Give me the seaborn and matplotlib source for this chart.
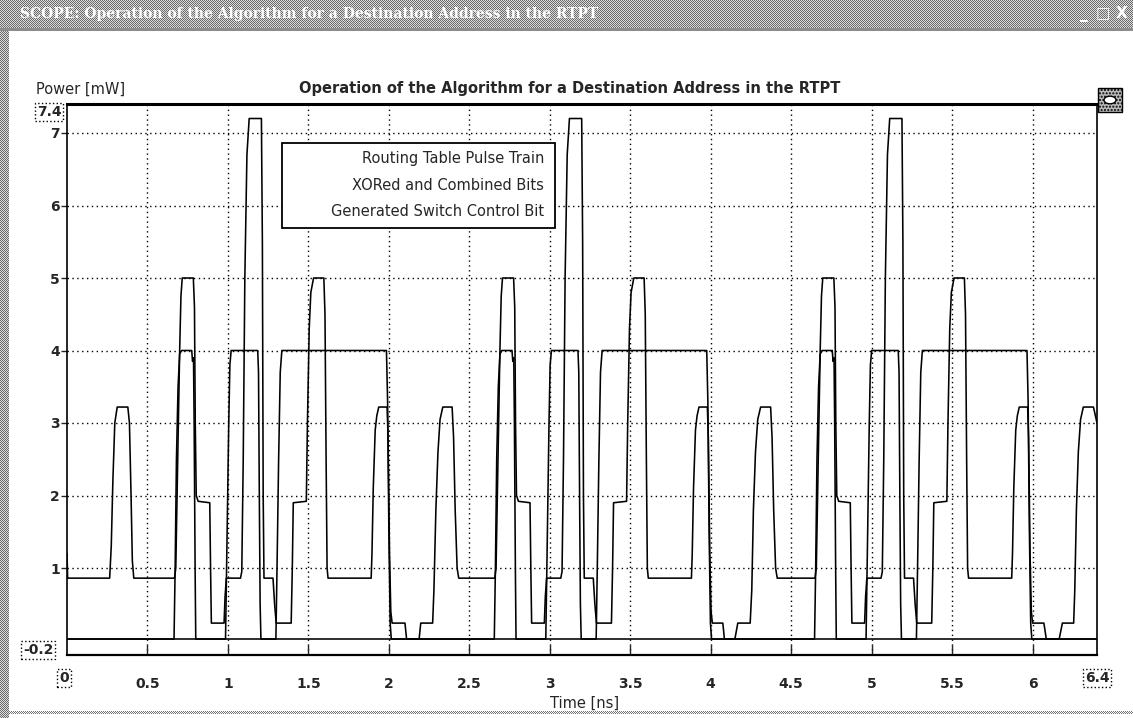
import numpy as np
import pandas as pd
import matplotlib
matplotlib.use("Agg")
import matplotlib.pyplot as plt
import seaborn as sns
from matplotlib.patches import Rectangle, Circle

sns.set_style("white")
plt.rcParams['font.family'] = ['DejaVu Sans']

# ---- data (time in ns, power in mW) ----
# Routing Table Pulse Train
pulse_t = [0.000, 0.004, 0.265, 0.275, 0.285, 0.297, 0.312, 0.378, 0.388, 0.398, 0.406, 0.415,
           0.668, 0.676, 0.688, 0.700, 0.708, 0.716, 0.785, 0.792, 0.797, 0.803, 0.815, 0.887, 0.892, 0.897,
           0.976, 0.982, 0.990, 1.078, 1.086, 1.095, 1.105, 1.118, 1.132, 1.208, 1.214, 1.219, 1.224,
           1.280, 1.290, 1.300, 1.393, 1.400, 1.406, 1.487, 1.494, 1.505, 1.515, 1.532, 1.596, 1.603,
           1.610, 1.616, 1.622, 1.890, 1.895, 1.903, 1.915, 1.925, 1.937, 1.989, 1.995, 2.004, 2.012, 2.020,
           2.100, 2.110, 2.188, 2.198, 2.272, 2.280, 2.292, 2.305, 2.318, 2.335, 2.393, 2.402, 2.412, 2.424, 2.434,
           2.658, 2.666, 2.678, 2.690, 2.698, 2.706, 2.775, 2.782, 2.787, 2.793, 2.805, 2.877, 2.882, 2.887,
           2.966, 2.972, 2.980, 3.068, 3.076, 3.085, 3.095, 3.108, 3.122, 3.198, 3.204, 3.209, 3.214,
           3.270, 3.280, 3.290, 3.383, 3.390, 3.396, 3.477, 3.484, 3.495, 3.505, 3.522, 3.586, 3.593,
           3.600, 3.606, 3.612, 3.880, 3.885, 3.893, 3.905, 3.915, 3.927, 3.979, 3.985, 3.994, 4.002, 4.010,
           4.075, 4.085, 4.150, 4.168, 4.245, 4.255, 4.265, 4.278, 4.292, 4.310, 4.372, 4.381, 4.391, 4.403, 4.413,
           4.648, 4.656, 4.668, 4.680, 4.688, 4.696, 4.765, 4.772, 4.777, 4.783, 4.795, 4.867, 4.872, 4.877,
           4.956, 4.962, 4.970, 5.058, 5.066, 5.075, 5.085, 5.098, 5.112, 5.188, 5.194, 5.199, 5.204,
           5.260, 5.270, 5.280, 5.373, 5.380, 5.386, 5.467, 5.474, 5.485, 5.495, 5.512, 5.576, 5.583,
           5.590, 5.596, 5.602, 5.870, 5.875, 5.883, 5.895, 5.905, 5.917, 5.969, 5.975, 5.984, 5.992, 6.000,
           6.070, 6.085, 6.165, 6.185, 6.255, 6.262, 6.272, 6.284, 6.298, 6.315, 6.378, 6.400]
pulse_mw = [1.20, 0.86, 0.86, 1.30, 2.20, 3.00, 3.22, 3.22, 3.00, 2.00, 1.10, 0.86,
            0.86, 1.00, 2.50, 4.00, 4.75, 5.00, 5.00, 4.60, 3.00, 2.00, 1.92, 1.90, 1.00, 0.24,
            0.24, 0.60, 0.86, 0.86, 0.95, 2.50, 5.00, 6.70, 7.20, 7.20, 5.50, 2.00, 0.86,
            0.86, 0.50, 0.24, 0.24, 1.00, 1.90, 1.92, 3.00, 4.30, 4.80, 5.00, 5.00, 4.50,
            2.50, 1.00, 0.86, 0.86, 1.20, 2.10, 2.90, 3.10, 3.22, 3.22, 2.80, 1.20, 0.40, 0.24,
            0.24, 0.02, 0.02, 0.24, 0.24, 0.70, 1.80, 2.60, 3.05, 3.22, 3.22, 2.80, 1.80, 1.00, 0.86,
            0.86, 1.00, 2.50, 4.00, 4.75, 5.00, 5.00, 4.60, 3.00, 2.00, 1.92, 1.90, 1.00, 0.24,
            0.24, 0.60, 0.86, 0.86, 0.95, 2.50, 5.00, 6.70, 7.20, 7.20, 5.50, 2.00, 0.86,
            0.86, 0.50, 0.24, 0.24, 1.00, 1.90, 1.92, 3.00, 4.30, 4.80, 5.00, 5.00, 4.50,
            2.50, 1.00, 0.86, 0.86, 1.20, 2.10, 2.90, 3.10, 3.22, 3.22, 2.80, 1.20, 0.40, 0.24,
            0.24, 0.02, 0.02, 0.24, 0.24, 0.70, 1.80, 2.60, 3.05, 3.22, 3.22, 2.80, 1.80, 1.00, 0.86,
            0.86, 1.00, 2.50, 4.00, 4.75, 5.00, 5.00, 4.60, 3.00, 2.00, 1.92, 1.90, 1.00, 0.24,
            0.24, 0.60, 0.86, 0.86, 0.95, 2.50, 5.00, 6.70, 7.20, 7.20, 5.50, 2.00, 0.86,
            0.86, 0.50, 0.24, 0.24, 1.00, 1.90, 1.92, 3.00, 4.30, 4.80, 5.00, 5.00, 4.50,
            2.50, 1.00, 0.86, 0.86, 1.20, 2.10, 2.90, 3.10, 3.22, 3.22, 2.80, 1.20, 0.40, 0.24,
            0.24, 0.02, 0.02, 0.24, 0.24, 0.70, 1.80, 2.60, 3.05, 3.22, 3.22, 3.00]

# XORed and Combined Bits
xor_t = [0.000, 0.665, 0.672, 0.680, 0.690, 0.700, 0.712, 0.775, 0.780, 0.786, 0.790, 0.796, 0.800,
         0.985, 0.995, 1.005, 1.012, 1.020, 1.185, 1.190, 1.195, 1.200, 1.205,
         1.298, 1.305, 1.315, 1.325, 1.335, 1.985, 1.992, 2.000, 2.008, 2.015,
         2.655, 2.662, 2.670, 2.680, 2.690, 2.702, 2.765, 2.770, 2.776, 2.780, 2.786, 2.790,
         2.975, 2.985, 2.995, 3.002, 3.010, 3.175, 3.180, 3.185, 3.190, 3.195,
         3.288, 3.295, 3.305, 3.315, 3.325, 3.975, 3.982, 3.990, 3.998, 4.005,
         4.645, 4.652, 4.660, 4.670, 4.680, 4.692, 4.755, 4.760, 4.766, 4.770, 4.776, 4.780,
         4.965, 4.975, 4.985, 4.992, 5.000, 5.165, 5.170, 5.175, 5.180, 5.185,
         5.278, 5.285, 5.295, 5.305, 5.315, 5.965, 5.972, 5.980, 5.988, 5.995, 6.400]
xor_mw = [0.02, 0.02, 1.00, 2.50, 3.50, 3.95, 4.00, 4.00, 3.85, 3.90, 3.00, 1.00, 0.02,
          0.02, 1.50, 3.00, 3.80, 4.00, 4.00, 3.70, 2.00, 0.50, 0.02,
          0.02, 1.00, 2.50, 3.70, 4.00, 4.00, 3.30, 1.50, 0.24, 0.02,
          0.02, 1.00, 2.50, 3.50, 3.95, 4.00, 4.00, 3.85, 3.90, 3.00, 1.00, 0.02,
          0.02, 1.50, 3.00, 3.80, 4.00, 4.00, 3.70, 2.00, 0.50, 0.02,
          0.02, 1.00, 2.50, 3.70, 4.00, 4.00, 3.30, 1.50, 0.24, 0.02,
          0.02, 1.00, 2.50, 3.50, 3.95, 4.00, 4.00, 3.85, 3.90, 3.00, 1.00, 0.02,
          0.02, 1.50, 3.00, 3.80, 4.00, 4.00, 3.70, 2.00, 0.50, 0.02,
          0.02, 1.00, 2.50, 3.70, 4.00, 4.00, 3.30, 1.50, 0.24, 0.02, 0.02]

# Generated Switch Control Bit
ctrl_t = [0.0, 6.4]
ctrl_mw = [0.02, 0.02]

legend_lines = ["Routing Table Pulse Train", "XORed and Combined Bits", "Generated Switch Control Bit"]
x_ticks = [0.5, 1, 1.5, 2, 2.5, 3, 3.5, 4, 4.5, 5, 5.5, 6]
x_tick_labels = ["0.5", "1", "1.5", "2", "2.5", "3", "3.5", "4", "4.5", "5", "5.5", "6"]
y_ticks = [1, 2, 3, 4, 5, 6, 7]

W, H = 1133, 718
fig = plt.figure(figsize=(W / 100, H / 100), dpi=100)
fig.patch.set_facecolor("white")

# window chrome: dithered title bar and border
yy, xx = np.mgrid[0:H, 0:W]
checker = ((xx + yy) % 2 == 0)
bg = np.ones((H, W, 3))
dither = np.where(checker, 0.42, 0.86)
bar = yy < 28
border = (xx < 9) & (yy >= 28)
bg[bar] = dither[bar][:, None]
bg[border] = dither[border][:, None]
bg[(yy >= 28) & (yy < 31)] = 0.55
bottom = (yy >= 711) & (yy < 714) & checker
bg[bottom] = 0.45
fig.figimage(bg, 0, 0, origin="upper", zorder=-10)

def fx(px):
    return px / W

def fy(py):
    return 1 - py / H

fig.text(fx(20), fy(14), "SCOPE: Operation of the Algorithm for a Destination Address in the RTPT",
         color="white", fontsize=10, fontweight="bold", va="center", ha="left", family="DejaVu Serif")
for px, s in [(1084, "_"), (1103, "□"), (1122, "X")]:
    fig.text(fx(px), fy(14), s, color="white", fontsize=11, fontweight="bold", ha="center", va="center")

fig.text(fx(36), fy(89), "Power [mW]", fontsize=10.5, va="center", ha="left")
fig.text(fx(570), fy(89), "Operation of the Algorithm for a Destination Address in the RTPT",
         fontsize=10.5, fontweight="bold", va="center", ha="center")

# small icon top right
fig.add_artist(Rectangle((fx(1098), fy(112)), 24 / W, 24 / H, transform=fig.transFigure,
                         facecolor="#bbbbbb", edgecolor="black", lw=1, hatch="....."))
fig.add_artist(Circle((fx(1110), fy(100)), 6 / W, transform=fig.transFigure,
                      facecolor="white", edgecolor="black", lw=1))

# plot area
ax = fig.add_axes([fx(67), fy(655), (1097 - 67) / W, (655 - 104) / H])
ax.set_zorder(5)
ax.set_facecolor("white")

df_pulse = pd.DataFrame({"t": pulse_t, "p": pulse_mw})
df_xor = pd.DataFrame({"t": xor_t, "p": xor_mw})
df_ctrl = pd.DataFrame({"t": ctrl_t, "p": ctrl_mw})
for d in (df_ctrl, df_xor, df_pulse):
    sns.lineplot(data=d, x="t", y="p", ax=ax, color="black", lw=1.15,
                 sort=False, estimator=None)

ax.set_xlim(0, 6.4)
ax.set_ylim(-0.2, 7.4)
ax.set_xticks(x_ticks)
ax.set_xticklabels(x_tick_labels, fontsize=10, fontweight="bold")
ax.set_yticks(y_ticks)
ax.set_yticklabels([str(v) for v in y_ticks], fontsize=10, fontweight="bold")
ax.set_xlabel("")
ax.set_ylabel("")
ax.grid(True, color="black", linestyle=(0, (1, 2.5)), linewidth=1.0)
ax.tick_params(axis="x", direction="in", length=7, width=1, pad=16, bottom=True)
ax.tick_params(axis="y", direction="out", length=4, width=1, pad=1, left=True)
for side, s in ax.spines.items():
    s.set_color("black")
    s.set_linewidth(1.2)
ax.spines["top"].set_linewidth(2.2)
ax.spines["bottom"].set_linewidth(1.6)

# boxed end values of the axes
box = dict(boxstyle="square,pad=0.15", facecolor="white", edgecolor="black", linestyle=":", lw=1)
fig.text(fx(64), fy(678), "0", fontsize=10, fontweight="bold", ha="center", va="center", bbox=box)
fig.text(fx(1097), fy(678), "6.4", fontsize=10, fontweight="bold", ha="center", va="center", bbox=box)
fig.text(fx(49), fy(112), "7.4", fontsize=10, fontweight="bold", ha="center", va="center", bbox=box)
fig.text(fx(38), fy(650), "-0.2", fontsize=10, fontweight="bold", ha="center", va="center", bbox=box)

fig.text(fx(585), fy(703), "Time [ns]", fontsize=10.5, ha="center", va="center")

# legend box (text only, as on the scope)
leg = Rectangle((fx(282), fy(228)), (555 - 282) / W, (228 - 143) / H,
                transform=fig.transFigure, facecolor="white", edgecolor="black", lw=1.3, zorder=10)
fig.add_artist(leg)
for i, s in enumerate(legend_lines):
    fig.text(fx(544), fy(159 + 26 * i), s, fontsize=10.5, ha="right", va="center", zorder=11)

fig.savefig("out.png", dpi=100)
